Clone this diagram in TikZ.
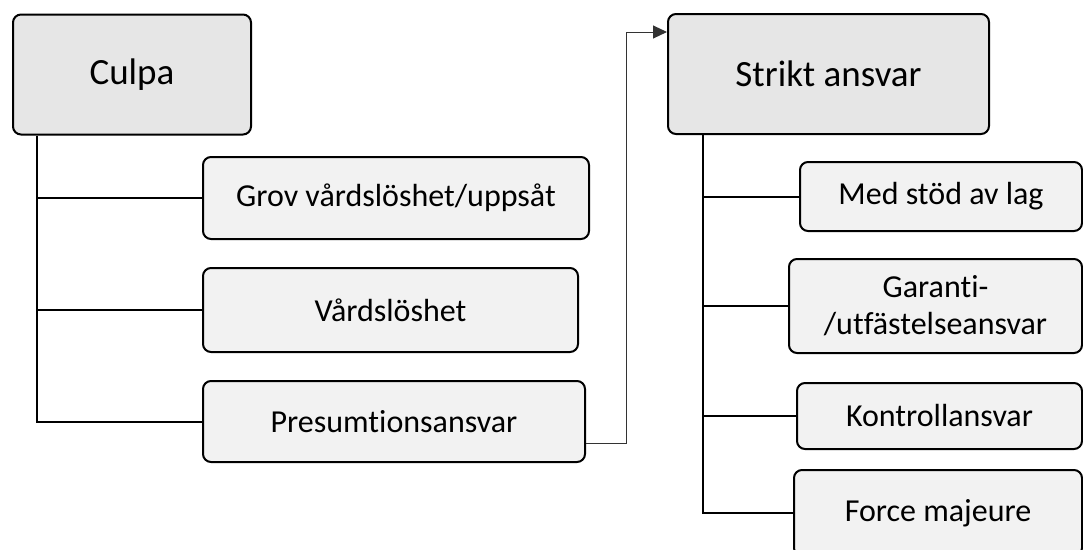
\documentclass[tikz,border=0pt]{standalone}
\usepackage{fontspec}
\setmainfont[Ligatures=NoCommon]{Carlito}
\usetikzlibrary{arrows.meta}
\definecolor{parentfill}{HTML}{E6E6E6}
\definecolor{childfill}{HTML}{F2F2F2}
\tikzset{
  box/.style={draw=black, line width=2pt, rounded corners=8pt, anchor=center, inner sep=0pt, align=center},
  parentbox/.style={box, fill=parentfill, font=\fontsize{37}{44}\selectfont},
  childbox/.style={box, fill=childfill, font=\fontsize{32}{37}\selectfont},
  conn/.style={draw=black, line width=2pt},
  arr/.style={draw=black!80, line width=1pt, -{Triangle[length=14pt,width=13pt]}}
}
\begin{document}
\begin{tikzpicture}[x=1pt,y=-1pt]
\useasboundingbox (0,0) rectangle (1083,549);
\clip (0,0) rectangle (1083,549);
% left group
\node[parentbox, minimum width=238pt, minimum height=120pt] (culpa) at (132,74.5) {Culpa};
\node[childbox, minimum width=386pt, minimum height=82pt] (grov) at (396,198) {Grov vårdslöshet/uppsåt};
\node[childbox, minimum width=375pt, minimum height=84pt] (vard) at (390.5,310) {Vårdslöshet};
\node[childbox, minimum width=382pt, minimum height=81pt] (presum) at (394,421.5) {Presumtionsansvar};
% right group
\node[parentbox, minimum width=321pt, minimum height=120pt] (strikt) at (828.5,74) {Strikt ansvar};
\node[childbox, minimum width=282pt, minimum height=69pt] (med) at (941,196.5) {Med stöd av lag};
\node[childbox, minimum width=293pt, minimum height=94pt] (gar) at (935.5,306) {Garanti-\\/utfästelseansvar};
\node[childbox, minimum width=285pt, minimum height=66pt] (kon) at (939.5,416) {Kontrollansvar};
\node[childbox, minimum width=288pt, minimum height=86pt] (force) at (938,513) {Force majeure};
% spines
\coordinate (spL) at (37,0);
\coordinate (spR) at (703,0);
\draw[conn] (spL |- culpa.south) -- (spL |- presum.west) -- (presum.west);
\draw[conn] (spL |- grov.west) -- (grov.west);
\draw[conn] (spL |- vard.west) -- (vard.west);
\draw[conn] (spR |- strikt.south) -- (spR |- force.west) -- (force.west);
\draw[conn] (spR |- med.west) -- (med.west);
\draw[conn] (spR |- gar.west) -- (gar.west);
\draw[conn] (spR |- kon.west) -- (kon.west);
% arrow
\draw[arr] ([yshift=-21.5pt]presum.east) -- ++(40,0) |- ([yshift=42pt]strikt.west);
\end{tikzpicture}
\end{document}
